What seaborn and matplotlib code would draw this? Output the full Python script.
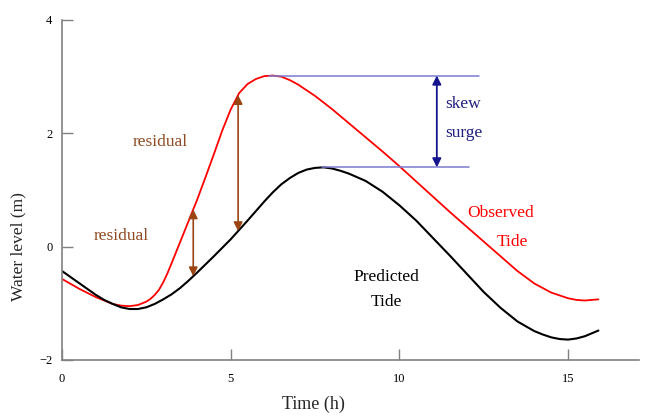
import numpy as np
import pandas as pd
import matplotlib
matplotlib.use("Agg")
import matplotlib.pyplot as plt
import seaborn as sns

# predicted tide: time (h) and water level (m)
pred_hours = [0.0, 0.5, 1.0, 1.25, 1.5, 1.75, 2.0, 2.25, 2.5, 2.75, 3.0, 3.25,
              3.5, 3.75, 4.0, 4.5, 5.0, 5.5, 6.0, 6.25, 6.5, 6.75, 7.0, 7.25,
              7.5, 7.75, 8.0, 8.25, 8.5, 9.0, 9.5, 10.0, 10.5, 11.0, 11.5,
              12.0, 12.5, 13.0, 13.5, 14.0, 14.25, 14.5, 14.75, 15.0, 15.25,
              15.5, 15.9]
predicted = [-0.43, -0.64, -0.85, -0.94, -1.01, -1.07, -1.10, -1.10, -1.07,
             -1.01, -0.93, -0.84, -0.73, -0.60, -0.46, -0.17, 0.13, 0.46,
             0.80, 0.96, 1.10, 1.21, 1.30, 1.36, 1.39, 1.40, 1.38, 1.34, 1.29,
             1.16, 0.97, 0.73, 0.46, 0.15, -0.16, -0.48, -0.80, -1.08, -1.32,
             -1.49, -1.55, -1.60, -1.63, -1.64, -1.62, -1.58, -1.48]

# observed tide: time (h) and water level (m)
obs_hours = [0.0, 0.5, 1.0, 1.5, 1.75, 2.0, 2.25, 2.5, 2.625, 2.75, 2.875,
             3.0, 3.125, 3.25, 3.5, 3.75, 4.0, 4.25, 4.5, 4.75, 5.0, 5.25,
             5.5, 5.75, 6.0, 6.25, 6.5, 6.75, 7.0, 7.5, 8.0, 8.5, 9.0, 9.5,
             10.0, 10.5, 11.0, 11.5, 12.0, 12.5, 13.0, 13.5, 14.0, 14.5, 15.0,
             15.25, 15.5, 15.9]
observed = [-0.57, -0.74, -0.89, -1.01, -1.04, -1.05, -1.03, -0.97, -0.92,
            -0.85, -0.76, -0.63, -0.47, -0.29, 0.08, 0.45, 0.82, 1.22, 1.63,
            2.05, 2.42, 2.71, 2.87, 2.96, 3.01, 3.02, 3.00, 2.94, 2.86, 2.66,
            2.43, 2.18, 1.93, 1.68, 1.42, 1.15, 0.88, 0.61, 0.35, 0.09, -0.17,
            -0.43, -0.65, -0.81, -0.91, -0.94, -0.95, -0.93]

pred_df = pd.DataFrame({"Time (h)": pred_hours, "Water level (m)": predicted})
obs_df = pd.DataFrame({"Time (h)": obs_hours, "Water level (m)": observed})

sns.set_style("ticks")
plt.rcParams["font.family"] = ["Liberation Serif", "DejaVu Serif"]

fig = plt.figure(figsize=(6.46, 4.17), dpi=100)
ax = fig.add_axes([0.096, 1 - 360 / 417, 0.893, 340 / 417])

sns.lineplot(data=obs_df, x="Time (h)", y="Water level (m)", color="#ff0000",
             lw=1.3, ax=ax, sort=False)
sns.lineplot(data=pred_df, x="Time (h)", y="Water level (m)", color="black",
             lw=1.5, ax=ax, sort=False)

ax.set_xlim(0, 17.1)
ax.set_ylim(-2, 4)
ax.set_xticks([0, 5, 10, 15])
ax.set_yticks([-2, 0, 2, 4])
ax.set_yticklabels(["\u22122", "0", "2", "4"])
ax.tick_params(axis="both", direction="in", length=8, width=1.0, colors="#808080",
               labelcolor="black", labelsize=9)
ax.tick_params(axis="x", pad=9)
ax.tick_params(axis="y", pad=7)
for s in ["top", "right"]:
    ax.spines[s].set_visible(False)
for s in ["left", "bottom"]:
    ax.spines[s].set_color("#808080")
    ax.spines[s].set_linewidth(1.2)

ax.set_xlabel("Time (h)", fontsize=13)
ax.set_ylabel("Water level (m)", fontsize=12.5)
ax.xaxis.set_label_coords(0.435, -0.105)
ax.yaxis.set_label_coords(-0.062, 0.335)

# residual arrows
brown = "#9a4512"
for xr in [3.89, 5.22]:
    y0 = np.interp(xr, pred_hours, predicted)
    y1 = np.interp(xr, obs_hours, observed)
    ax.annotate("", xy=(xr, y1), xytext=(xr, y0),
                arrowprops=dict(arrowstyle="<|-|>", color=brown, lw=1.2,
                                mutation_scale=13, shrinkA=0, shrinkB=0))
ax.text(2.90, 1.85, "residual", color="#8e4a22", fontsize=12.5, ha="center", va="center")
ax.text(1.75, 0.19, "residual", color="#8e4a22", fontsize=12.5, ha="center", va="center")

# skew surge
top = max(observed)
low = max(predicted)
ax.plot([6.15, 12.36], [top, top], color="#7a7ad0", lw=1.1)
ax.plot([7.7, 12.06], [low, low], color="#7a7ad0", lw=1.1)
ax.annotate("", xy=(11.11, top), xytext=(11.11, low),
            arrowprops=dict(arrowstyle="<|-|>", color="#14148f", lw=1.3,
                            mutation_scale=13, shrinkA=0, shrinkB=0))
ax.text(11.35, 2.52, "skew", color="#202080", fontsize=12.5, ha="left", va="center")
ax.text(11.35, 2.00, "surge", color="#202080", fontsize=12.5, ha="left", va="center")

# labels of the curves
ax.text(13.0, 0.59, "Observed", color="#ff0000", fontsize=12.5, ha="center", va="center")
ax.text(13.36, 0.09, "Tide", color="#ff0000", fontsize=12.5, ha="center", va="center")
ax.text(9.62, -0.53, "Predicted", color="black", fontsize=12.5, ha="center", va="center")
ax.text(9.60, -0.97, "Tide", color="black", fontsize=12.5, ha="center", va="center")

fig.savefig("out.png", dpi=100)
